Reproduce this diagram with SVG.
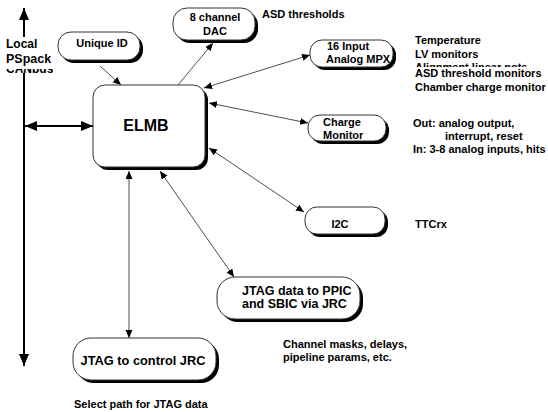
<svg xmlns="http://www.w3.org/2000/svg" width="548" height="412" viewBox="0 0 548 412">
<defs>
<style>
.t{font-family:"Liberation Sans",Arial,sans-serif;font-weight:bold;fill:#000}
.s11{font-size:11px}
.shadow{fill:#000}
.box{fill:#fff;stroke:#333;stroke-width:1}
.thin{stroke:#222;stroke-width:0.8;fill:none}
.thick{stroke:#000;stroke-width:2;fill:none}
</style>
<marker id="ah" markerUnits="userSpaceOnUse" markerWidth="9" markerHeight="8" refX="8" refY="3.5" orient="auto-start-reverse">
<path d="M0,0 L8,3.5 L0,7 z" fill="#000"/>
</marker>
<marker id="ahb" markerUnits="userSpaceOnUse" markerWidth="13" markerHeight="11" refX="12" refY="5" orient="auto-start-reverse">
<path d="M0,0 L12,5 L0,10 z" fill="#000"/>
</marker>
<clipPath id="canclip"><rect x="0" y="69" width="80" height="5"/></clipPath>
</defs>
<rect width="548" height="412" fill="#fff"/>

<g id="connectors">
<line class="thick" x1="24" y1="40" x2="24" y2="8" marker-end="url(#ahb)"/>
<line class="thick" x1="24" y1="70" x2="24" y2="366" marker-end="url(#ahb)"/>
<line class="thick" x1="25" y1="126" x2="93" y2="126" marker-start="url(#ahb)" marker-end="url(#ahb)"/>
<line class="thin" x1="100" y1="66" x2="121" y2="85" marker-end="url(#ah)"/>
<line class="thin" x1="178" y1="85" x2="213" y2="43" marker-end="url(#ah)"/>
<line class="thin" x1="204" y1="88" x2="310" y2="55" marker-start="url(#ah)" marker-end="url(#ah)"/>
<line class="thin" x1="209" y1="103" x2="308" y2="123" marker-start="url(#ah)" marker-end="url(#ah)"/>
<line class="thin" x1="209" y1="148" x2="304" y2="212" marker-start="url(#ah)" marker-end="url(#ah)"/>
<line class="thin" x1="160" y1="171" x2="234" y2="277" marker-start="url(#ah)" marker-end="url(#ah)"/>
<line class="thin" x1="129" y1="171" x2="129" y2="338" marker-start="url(#ah)" marker-end="url(#ah)"/>
</g>

<g id="label-local">
<rect x="4" y="37" width="52" height="36" fill="#fff"/>
<text class="t" x="6" y="73" font-size="12" clip-path="url(#canclip)">CANbus</text>
<text class="t" x="6" y="48" font-size="12">Local</text>
<text class="t" x="6" y="62.5" font-size="12.5">PSpack</text>
</g>

<g id="elmb">
<rect class="shadow" x="96" y="88" width="112" height="82" rx="12"/>
<rect class="box" x="93" y="85" width="112" height="82" rx="12"/>
<text class="t" x="146" y="131" font-size="16" text-anchor="middle">ELMB</text>
</g>

<g id="unique-id">
<rect class="shadow" x="61" y="35" width="82" height="28" rx="13"/>
<rect class="box" x="58" y="32" width="82" height="28" rx="13"/>
<text class="t s11" x="102" y="47" text-anchor="middle">Unique ID</text>
</g>

<g id="dac">
<rect class="shadow" x="176" y="11" width="82" height="32" rx="14"/>
<rect class="box" x="173" y="8" width="82" height="32" rx="14"/>
<text class="t s11" x="215" y="21" text-anchor="middle">8 channel</text>
<text class="t s11" x="215" y="35" text-anchor="middle">DAC</text>
<text class="t s11" x="262" y="18">ASD thresholds</text>
</g>

<g id="analog-mpx">
<rect class="shadow" x="313" y="43" width="83" height="27" rx="12"/>
<rect class="box" x="310" y="40" width="83" height="27" rx="12"/>
<text class="t s11" x="327" y="50">16 Input</text>
<text class="t s11" x="326" y="63">Analog MPX</text>
<text class="t s11" x="415" y="44">Temperature</text>
<text class="t s11" x="415" y="57.5">LV monitors</text>
<text class="t s11" x="415" y="71">Alignment linear pots</text>
<rect x="413" y="67" width="135" height="11" fill="#fff"/>
<text class="t s11" x="415" y="77">ASD threshold monitors</text>
<text class="t s11" x="415" y="91">Chamber charge monitor</text>
</g>

<g id="charge-monitor">
<rect class="shadow" x="311" y="118" width="78" height="26" rx="12"/>
<rect class="box" x="308" y="115" width="78" height="26" rx="12"/>
<text class="t s11" x="323" y="126">Charge</text>
<text class="t s11" x="323" y="139">Monitor</text>
<text class="t s11" x="413" y="127">Out: analog output,</text>
<text class="t s11" x="445" y="140">interrupt, reset</text>
<text class="t s11" x="413" y="153">In: 3-8 analog inputs, hits</text>
</g>

<g id="i2c">
<rect class="shadow" x="308" y="210" width="80" height="27" rx="12"/>
<rect class="box" x="305" y="207" width="80" height="27" rx="12"/>
<text class="t s11" x="340" y="228" text-anchor="middle">I2C</text>
<text class="t s11" x="415" y="228">TTCrx</text>
</g>

<g id="jtag-data">
<rect class="shadow" x="220" y="280" width="143" height="42" rx="18"/>
<rect class="box" x="217" y="277" width="143" height="42" rx="18"/>
<text class="t" x="242" y="295" font-size="12.5">JTAG data to PPIC</text>
<text class="t" x="242" y="308" font-size="12.5">and SBIC via JRC</text>
<text class="t s11" x="283" y="348">Channel masks, delays,</text>
<text class="t s11" x="283" y="361">pipeline params, etc.</text>
</g>

<g id="jtag-control">
<rect class="shadow" x="76" y="341" width="143" height="42" rx="18"/>
<rect class="box" x="73" y="338" width="143" height="42" rx="18"/>
<text class="t" x="143" y="365" font-size="12.8" text-anchor="middle">JTAG to control JRC</text>
<text class="t s11" x="74" y="408">Select path for JTAG data</text>
</g>
</svg>
